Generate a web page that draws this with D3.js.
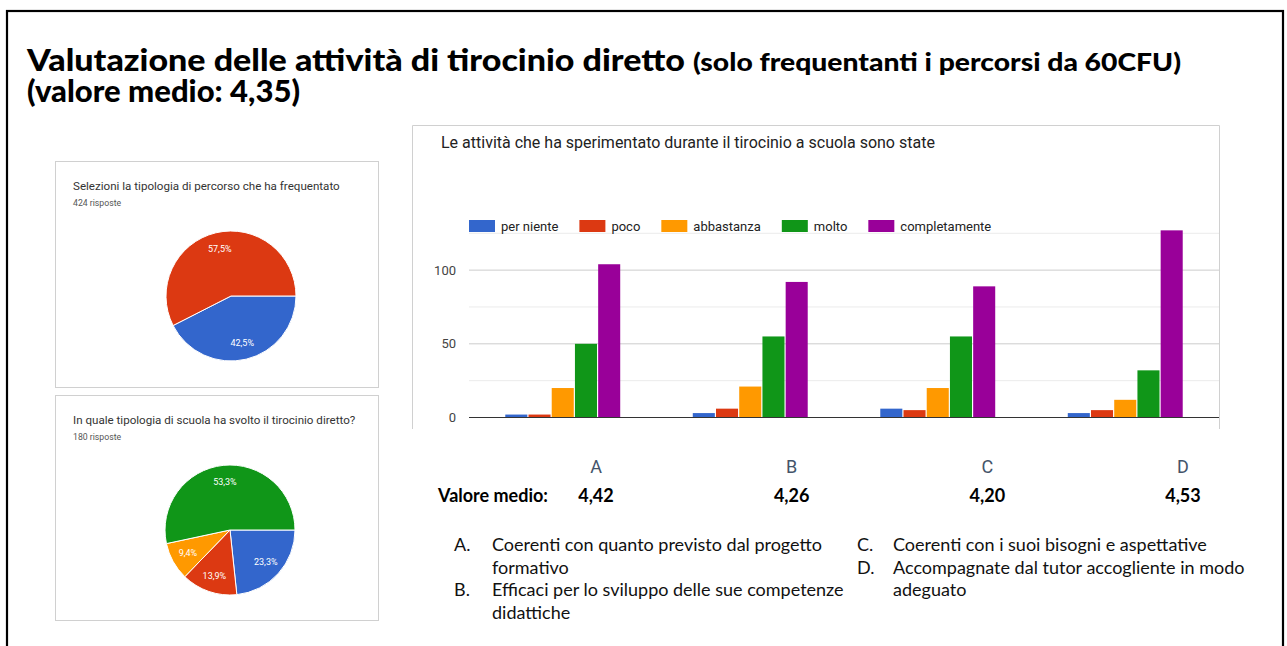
<!DOCTYPE html>
<html>
<head>
<meta charset="utf-8">
<script src="https://cdn.jsdelivr.net/npm/d3@7"></script>
<style>
  body { margin: 0; background: #fff; }
  svg { display: block; }
</style>
</head>
<body>
<div id="chart"></div>
<script>
// bar chart data (Google Forms export)
const categories = ["A", "B", "C", "D"];
const seriesNames = ["per niente", "poco", "abbastanza", "molto", "completamente"];
const perNiente = [2, 3, 6, 3];
const poco = [2, 6, 5, 5];
const abbastanza = [20, 21, 20, 12];
const molto = [50, 55, 55, 32];
const completamente = [104, 92, 89, 127];
const seriesColors = ["#3366cc", "#dc3912", "#ff9900", "#109618", "#990099"];
const majorTicks = [0, 50, 100];
const minorTicks = [25, 75, 125];
const mediaValues = ["4,42", "4,26", "4,20", "4,53"];

// pie charts
const pie1Values = [42.5, 57.5];
const pie1Labels = ["42,5%", "57,5%"];
const pie1Colors = ["#3366cc", "#dc3912"];
const pie2Values = [23.3, 13.9, 9.4, 53.3];
const pie2Labels = ["23,3%", "13,9%", "9,4%", "53,3%"];
const pie2Colors = ["#3366cc", "#dc3912", "#ff9900", "#109618"];

const legendItems = [
  ["A.", "Coerenti con quanto previsto dal progetto", "formativo"],
  ["B.", "Efficaci per lo sviluppo delle sue competenze", "didattiche"],
  ["C.", "Coerenti con i suoi bisogni e aspettative"],
  ["D.", "Accompagnate dal tutor accogliente in modo", "adeguato"]
];

const W = 1287, H = 646;
const svg = d3.select("#chart").append("svg").attr("width", W).attr("height", H);

// slide frame
svg.append("rect").attr("x", 7).attr("y", 11).attr("width", 1276).attr("height", 660)
  .attr("fill", "none").attr("stroke", "#000").attr("stroke-width", 2.2);

// slide title (one text element, two lines)
const titleFont = "Lato, sans-serif";
const t1 = svg.append("text").attr("x", 27).attr("y", 71)
  .attr("font-family", titleFont).attr("font-weight", 900).attr("fill", "#000");
t1.append("tspan").attr("font-size", 30).attr("textLength", 658).attr("lengthAdjust", "spacingAndGlyphs")
  .text("Valutazione delle attività di tirocinio diretto");
t1.append("tspan").attr("x", 693).attr("font-size", 25).attr("textLength", 488).attr("lengthAdjust", "spacingAndGlyphs")
  .text("(solo frequentanti i percorsi da 60CFU)");
t1.append("tspan").attr("x", 27).attr("dy", 31).attr("font-size", 30)
  .attr("textLength", 273).attr("lengthAdjust", "spacingAndGlyphs")
  .text("(valore medio: 4,35)");

// ---------- pie charts ----------
function drawPie(box, title, sub, values, labels, colors) {
  const g = svg.append("g");
  g.append("rect").attr("x", box.x + 0.5).attr("y", box.y + 0.5)
    .attr("width", box.w).attr("height", box.h)
    .attr("fill", "#fff").attr("stroke", "#d0d0d0");
  g.append("text").attr("x", box.x + 18).attr("y", box.y + 29)
    .attr("font-family", "Roboto, Arial, sans-serif").attr("font-size", 11.6)
    .attr("fill", "#333").text(title);
  g.append("text").attr("x", box.x + 18).attr("y", box.y + 45)
    .attr("font-family", "Roboto, Arial, sans-serif").attr("font-size", 8.7)
    .attr("fill", "#555").text(sub);

  const pie = d3.pie().sort(null).startAngle(Math.PI / 2).endAngle(Math.PI / 2 + 2 * Math.PI);
  const arcs = pie(values);
  const r = 65;
  const arc = d3.arc().innerRadius(0).outerRadius(r);
  const labelArc = d3.arc().innerRadius(r * 0.74).outerRadius(r * 0.74);
  const pg = g.append("g").attr("transform", `translate(${box.cx},${box.cy})`);
  pg.selectAll("path").data(arcs).join("path")
    .attr("d", arc).attr("fill", (d, i) => colors[i])
    .attr("stroke", "#fff").attr("stroke-width", 1);
  pg.selectAll("text").data(arcs).join("text")
    .attr("transform", d => `translate(${labelArc.centroid(d)})`)
    .attr("text-anchor", "middle").attr("dy", "0.35em")
    .attr("font-family", "Roboto, Arial, sans-serif").attr("font-size", 9)
    .attr("fill", "#fff").text((d, i) => labels[i]);
}

drawPie({ x: 55, y: 161, w: 323, h: 226, cx: 231, cy: 296 },
  "Selezioni la tipologia di percorso che ha frequentato", "424 risposte",
  pie1Values, pie1Labels, pie1Colors);
drawPie({ x: 55, y: 395, w: 323, h: 225, cx: 230, cy: 530 },
  "In quale tipologia di scuola ha svolto il tirocinio diretto?", "180 risposte",
  pie2Values, pie2Labels, pie2Colors);

// ---------- grouped bar chart ----------
const seriesData = [perNiente, poco, abbastanza, molto, completamente];
const chartBox = { x: 412, y: 125, w: 807, h: 304 };
const cg = svg.append("g");
cg.append("path")
  .attr("d", `M${chartBox.x + 0.5},${chartBox.y + chartBox.h} V${chartBox.y + 0.5} H${chartBox.x + chartBox.w + 0.5} V${chartBox.y + chartBox.h}`)
  .attr("fill", "none").attr("stroke", "#d0d0d0");

cg.append("text").attr("x", 441).attr("y", 148)
  .attr("font-family", "Roboto, Arial, sans-serif").attr("font-size", 16)
  .attr("fill", "#222").text("Le attività che ha sperimentato durante il tirocinio a scuola sono state");

const x0 = d3.scaleBand().domain(categories).range([469, 1219])
  .paddingInner(0.387).paddingOuter(0.1935);
const x1 = d3.scaleBand().domain(seriesNames).range([0, x0.bandwidth()]).paddingInner(0.05);
const y = d3.scaleLinear().domain([0, 125]).range([417.5, 233.3]);

// gridlines
cg.selectAll("line.minor").data(minorTicks).join("line").attr("class", "minor")
  .attr("x1", 469).attr("x2", 1219).attr("y1", d => y(d)).attr("y2", d => y(d))
  .attr("stroke", "#ebebeb").attr("stroke-width", 1);
cg.selectAll("line.major").data(majorTicks.filter(d => d > 0)).join("line").attr("class", "major")
  .attr("x1", 469).attr("x2", 1219).attr("y1", d => y(d)).attr("y2", d => y(d))
  .attr("stroke", "#cccccc").attr("stroke-width", 1);

// y axis labels
const yAxis = d3.axisLeft(y).tickValues(majorTicks).tickSize(0).tickPadding(0);
const ya = cg.append("g").attr("transform", "translate(456,0)").call(yAxis);
ya.select(".domain").remove();
ya.selectAll("text").attr("font-family", "Roboto, Arial, sans-serif")
  .attr("font-size", 13).attr("fill", "#444");

// bars
const groups = cg.selectAll("g.grp").data(categories).join("g").attr("class", "grp")
  .attr("transform", d => `translate(${x0(d)},0)`);
groups.selectAll("rect").data((c, ci) => seriesNames.map((s, si) => ({ s, si, v: seriesData[si][ci] })))
  .join("rect")
  .attr("x", d => x1(d.s)).attr("width", x1.bandwidth())
  .attr("y", d => y(d.v)).attr("height", d => y(0) - y(d.v))
  .attr("fill", d => seriesColors[d.si]);

// baseline
cg.append("line").attr("x1", 469).attr("x2", 1219).attr("y1", y(0)).attr("y2", y(0))
  .attr("stroke", "#333").attr("stroke-width", 1);

// legend
const leg = cg.append("g").attr("transform", "translate(469,220)");
let lx = 0;
seriesNames.forEach((s, i) => {
  leg.append("rect").attr("x", lx).attr("y", 0).attr("width", 26).attr("height", 12)
    .attr("fill", seriesColors[i]);
  const t = leg.append("text").attr("x", lx + 32).attr("y", 10.5)
    .attr("font-family", "Roboto, Arial, sans-serif").attr("font-size", 13)
    .attr("fill", "#222").text(s);
  lx += 32 + t.node().getComputedTextLength() + 21;
});

// category letters and mean values under the chart
const xs = d3.scalePoint().domain(categories).range([596, 1183]);
svg.selectAll("text.cat").data(categories).join("text").attr("class", "cat")
  .attr("x", d => xs(d)).attr("y", 473).attr("text-anchor", "middle")
  .attr("font-family", "Roboto, Arial, sans-serif").attr("font-size", 18)
  .attr("fill", "#44546a").text(d => d);

svg.append("text").attr("x", 438).attr("y", 502)
  .attr("font-family", "Lato, sans-serif").attr("font-weight", 700).attr("font-size", 18)
  .attr("fill", "#000").text("Valore medio:");
svg.selectAll("text.media").data(categories).join("text").attr("class", "media")
  .attr("x", d => xs(d)).attr("y", 502).attr("text-anchor", "middle")
  .attr("font-family", "Lato, sans-serif").attr("font-weight", 700).attr("font-size", 18)
  .attr("fill", "#000").text((d, i) => mediaValues[i]);

// item descriptions
const listFont = "Lato, sans-serif";
const lineH = 22.7;
const cols = [{ lx: 454, tx: 492, items: legendItems.slice(0, 2) },
              { lx: 857, tx: 893, items: legendItems.slice(2) }];
cols.forEach(col => {
  let row = 0;
  col.items.forEach(it => {
    svg.append("text").attr("x", col.lx).attr("y", 551 + row * lineH)
      .attr("font-family", listFont).attr("font-size", 18).attr("fill", "#111").text(it[0]);
    it.slice(1).forEach(line => {
      svg.append("text").attr("x", col.tx).attr("y", 551 + row * lineH)
        .attr("font-family", listFont).attr("font-size", 18).attr("fill", "#111").text(line);
      row++;
    });
  });
});
</script>
</body>
</html>
